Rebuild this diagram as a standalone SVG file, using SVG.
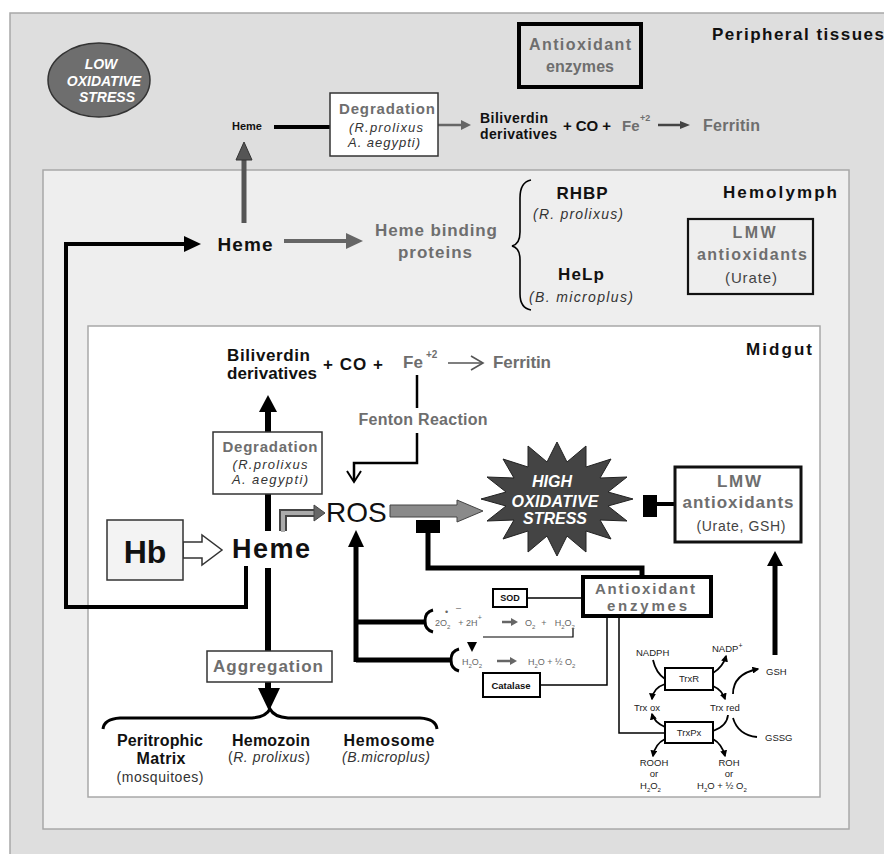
<svg xmlns="http://www.w3.org/2000/svg" width="884" height="854" viewBox="0 0 884 854">
<defs>
<style>
text{font-family:"Liberation Sans",Arial,sans-serif;}
.b{font-weight:bold;fill:#111;}
.g{font-weight:bold;fill:#6e6e6e;}
.i{font-style:italic;fill:#333;}
.w{font-style:italic;font-weight:bold;fill:#fff;}
.s{font-size:9.5px;fill:#222;}
.eq{font-size:9px;fill:#666;}
.c{text-anchor:middle;}
.box{fill:#fff;stroke:#333;stroke-width:1.5;}
.k{stroke:#000;fill:none;}
</style>
<marker id="sm" viewBox="0 0 10 10" refX="8" refY="5" markerWidth="7" markerHeight="7" markerUnits="userSpaceOnUse" orient="auto"><path d="M0,0 L10,5 L0,10 z" fill="#000"/></marker>
</defs>

<!-- compartments -->
<g id="peripheral">
<rect x="10" y="13" width="900" height="900" fill="#dedede" stroke="#a8a8a8" stroke-width="1.5"/>
<text x="712" y="40" class="b" font-size="17" textLength="172">Peripheral tissues</text>
</g>
<g id="hemolymph">
<rect x="43" y="170" width="806" height="659" fill="#eeeeee" stroke="#a8a8a8" stroke-width="1.5"/>
<text x="837" y="198" class="b" font-size="17" text-anchor="end" textLength="114">Hemolymph</text>
</g>
<g id="midgut">
<rect x="88" y="326" width="732" height="471" fill="#fff" stroke="#a8a8a8" stroke-width="1.5"/>
<text x="812" y="355" class="b" font-size="17" text-anchor="end" textLength="66">Midgut</text>
</g>

<!-- connectors -->
<g id="connectors">
<line x1="244" y1="223" x2="244" y2="158" stroke="#555" stroke-width="5"/>
<polygon points="236,160 252,160 244,142" fill="#555" stroke="#333" stroke-width="1"/>
<line x1="274" y1="127" x2="330" y2="127" stroke="#000" stroke-width="4"/>
<line x1="438" y1="125" x2="463" y2="125" stroke="#666" stroke-width="2.5"/>
<polygon points="461,120 471,125 461,130" fill="#666"/>
<line x1="658" y1="125" x2="682" y2="125" stroke="#444" stroke-width="2.5"/>
<polygon points="680,121 690,125 680,129" fill="#444"/>
<path d="M246 566 L246 607 L66 607 L66 244 L188 244" class="k" stroke-width="4"/>
<polygon points="184,236 201,244 184,252" fill="#000"/>
<line x1="284" y1="241" x2="348" y2="241" stroke="#666" stroke-width="4"/>
<polygon points="346,233 363,241 346,249" fill="#666"/>
<path d="M531 180 Q520 182 520 198 L520 232 Q520 244 512 246 Q520 248 520 260 L520 294 Q520 308 531 310" class="k" stroke-width="1.6"/>
<line x1="448" y1="363" x2="482" y2="363" stroke="#555" stroke-width="1.6"/>
<polyline points="471,356 483,363 471,370" fill="none" stroke="#555" stroke-width="1.6"/>
<line x1="417" y1="375" x2="417" y2="408" stroke="#000" stroke-width="2.5"/>
<path d="M417 433 L417 463 L354 463 L354 481" class="k" stroke-width="2.5"/>
<polyline points="347,471 354,482 361,471" fill="none" stroke="#000" stroke-width="2"/>
<line x1="268" y1="432" x2="268" y2="410" stroke="#000" stroke-width="6"/>
<polygon points="259,412 277,412 268,395" fill="#000"/>
<line x1="268" y1="494" x2="268" y2="531" stroke="#000" stroke-width="6"/>
<line x1="268" y1="568" x2="268" y2="651" stroke="#000" stroke-width="6"/>
<line x1="268" y1="682" x2="268" y2="690" stroke="#000" stroke-width="6"/>
<polygon points="258,688 280,688 269,711" fill="#000"/>
<path d="M183 542 L202 542 L202 535 L222 550 L202 565 L202 558 L183 558 Z" fill="#fff" stroke="#333" stroke-width="1.5"/>
<path d="M283 531 L283 513 L316 513" fill="none" stroke="#444" stroke-width="8"/>
<path d="M283 532 L283 513 L316 513" fill="none" stroke="#aaa" stroke-width="4"/>
<polygon points="314,505 325,513 314,521" fill="#666" stroke="#444" stroke-width="1"/>
<path d="M390 505 L457 505 L457 500 L483 511 L457 522 L457 517 L390 517 Z" fill="#8a8a8a" stroke="#444" stroke-width="1"/>
<rect x="643" y="495" width="14" height="22" fill="#000"/>
<line x1="657" y1="504" x2="675" y2="504" stroke="#000" stroke-width="4"/>
<line x1="775" y1="655" x2="775" y2="564" stroke="#000" stroke-width="5"/>
<polygon points="767,566 783,566 775,551" fill="#000"/>
<rect x="416" y="520" width="24" height="13" fill="#000"/>
<path d="M428 533 L428 568 L642 568 L642 578" class="k" stroke-width="5"/>
<line x1="527" y1="598" x2="583" y2="598" stroke="#000" stroke-width="1.5"/>
<line x1="356" y1="662" x2="356" y2="545" stroke="#000" stroke-width="5"/>
<polygon points="348,547 364,547 356,530" fill="#000"/>
<line x1="356" y1="622" x2="425" y2="622" stroke="#000" stroke-width="5"/>
<line x1="356" y1="660" x2="451" y2="660" stroke="#000" stroke-width="5"/>
<path d="M433 610 Q425 612 425 621 Q425 630 433 632" class="k" stroke-width="3"/>
<path d="M459 649 Q451 651 451 660 Q451 669 459 671" class="k" stroke-width="3"/>
<path d="M573 628 L573 637 L483 637" class="k" stroke-width="1.2"/>
<polygon points="467,642 477,642 472,652" fill="#000"/>
<path d="M540 685 L607 685 L607 616" class="k" stroke-width="1.5"/>
<path d="M619 616 L619 733 L665 733" class="k" stroke-width="1.5"/>
<path d="M653 660 Q656 673 665 679" class="k" stroke-width="1.8"/>
<path d="M665 684 Q653 688 652 699" class="k" stroke-width="1.8" marker-end="url(#sm)"/>
<path d="M713 673 Q723 667 726 656" class="k" stroke-width="1.8" marker-end="url(#sm)"/>
<path d="M713 686 Q722 690 725 699" class="k" stroke-width="1.8" marker-end="url(#sm)"/>
<path d="M728 715 Q727 726 713 731" class="k" stroke-width="1.8"/>
<path d="M665 727 Q654 722 652 714" class="k" stroke-width="1.8" marker-end="url(#sm)"/>
<path d="M665 739 Q655 744 653 756" class="k" stroke-width="1.8" marker-end="url(#sm)"/>
<path d="M713 739 Q722 744 725 756" class="k" stroke-width="1.8" marker-end="url(#sm)"/>
<path d="M733 694 Q733 674 758 669" class="k" stroke-width="1.8" marker-end="url(#sm)"/>
<path d="M733 718 Q738 735 757 737" class="k" stroke-width="1.8"/>
<path d="M103 729 Q104 719 120 718 L252 718 Q266 717 270 709 Q274 717 288 718 L420 718 Q436 719 437 729" class="k" stroke-width="3"/>
</g>

<g id="low-stress">
<ellipse cx="99" cy="80" rx="51" ry="37" fill="#6e6e6e" stroke="#333" stroke-width="1.5"/>
<text x="101" y="69" class="w c" font-size="14">LOW</text>
<text x="104" y="86" class="w c" font-size="14">OXIDATIVE</text>
<text x="107" y="102" class="w c" font-size="14">STRESS</text>
</g>
<g id="antiox-enz-top">
<rect x="519" y="24" width="122" height="63" fill="none" stroke="#000" stroke-width="4"/>
<text x="580" y="50" class="g c" font-size="16" textLength="102">Antioxidant</text>
<text x="580" y="72" class="g c" font-size="16" textLength="68">enzymes</text>
</g>
<g id="heme-top"><text x="247" y="130" class="b c" font-size="11">Heme</text></g>
<g id="degradation-top">
<rect x="330" y="93" width="108" height="63" class="box"/>
<text x="387" y="114" class="g c" font-size="15" textLength="96">Degradation</text>
<text x="386" y="132" class="i c" font-size="13" textLength="74">(R.prolixus</text>
<text x="384" y="147" class="i c" font-size="13" textLength="72">A. aegypti)</text>
</g>
<g id="products-top">
<text x="480" y="123" class="b" font-size="14" textLength="68">Biliverdin</text>
<text x="480" y="139" class="b" font-size="14" textLength="77">derivatives</text>
<text x="563" y="131" class="b" font-size="15" textLength="48">+ CO +</text>
<text x="622" y="131" class="g" font-size="15">Fe</text>
<text x="640" y="121" class="g" font-size="9">+2</text>
<text x="703" y="131" class="g" font-size="16" textLength="57">Ferritin</text>
</g>

<g id="heme-hemolymph"><text x="245" y="251" class="b c" font-size="19" textLength="55">Heme</text></g>
<g id="heme-binding">
<text x="436" y="236" class="g c" font-size="17" textLength="122">Heme binding</text>
<text x="435" y="258" class="g c" font-size="17" textLength="74">proteins</text>
</g>
<g id="rhbp">
<text x="582" y="199" class="b c" font-size="17" textLength="51">RHBP</text>
<text x="578" y="219" class="i c" font-size="14" textLength="90">(R. prolixus)</text>
</g>
<g id="help">
<text x="581" y="280" class="b c" font-size="17" textLength="46">HeLp</text>
<text x="581" y="302" class="i c" font-size="14" textLength="104">(B. microplus)</text>
</g>
<g id="lmw-hemolymph">
<rect x="688" y="219" width="125" height="75" fill="none" stroke="#111" stroke-width="2.2"/>
<text x="754" y="238" class="g c" font-size="16" textLength="43">LMW</text>
<text x="752" y="260" class="g c" font-size="16" textLength="110">antioxidants</text>
<text x="751" y="283" class="c" font-size="15" fill="#444" textLength="52">(Urate)</text>
</g>

<g id="products-midgut">
<text x="227" y="361" class="b" font-size="17" textLength="83">Biliverdin</text>
<text x="227" y="379" class="b" font-size="17" textLength="90">derivatives</text>
<text x="323" y="370" class="b" font-size="17" textLength="60">+ CO +</text>
<text x="403" y="368" class="g" font-size="17">Fe</text>
<text x="426" y="358" class="g" font-size="10">+2</text>
<text x="493" y="368" class="g" font-size="17" textLength="58">Ferritin</text>
</g>
<g id="fenton"><text x="423" y="425" class="g c" font-size="16" textLength="129">Fenton Reaction</text></g>
<g id="degradation-midgut">
<rect x="213" y="432" width="109" height="62" class="box"/>
<text x="270" y="452" class="g c" font-size="15" textLength="95">Degradation</text>
<text x="270" y="469" class="i c" font-size="13" textLength="75">(R.prolixus</text>
<text x="270" y="484" class="i c" font-size="13" textLength="76">A. aegypti)</text>
</g>
<g id="hb">
<rect x="107" y="520" width="76" height="60" fill="#f3f3f3" stroke="#333" stroke-width="1.5"/>
<text x="145" y="563" class="b c" font-size="32">Hb</text>
</g>
<g id="heme-midgut"><text x="271" y="558" class="b c" font-size="27" textLength="78">Heme</text></g>
<g id="ros"><text x="326" y="522" font-size="28" fill="#111">ROS</text></g>
<g id="high-stress">
<polygon points="633,499 608,506 627,521 600,520 611,539 586,531 586,552 567,536 557,556 547,536 528,552 528,531 503,539 514,520 487,521 506,506 481,499 506,492 487,477 514,478 503,459 528,467 528,446 547,462 557,442 567,462 586,446 586,467 611,459 600,478 627,477 608,492" fill="#444" stroke="#222" stroke-width="1"/>
<text x="552" y="487" class="w c" font-size="16" textLength="40">HIGH</text>
<text x="555" y="507" class="w c" font-size="16" textLength="87">OXIDATIVE</text>
<text x="555" y="524" class="w c" font-size="16" textLength="64">STRESS</text>
</g>
<g id="lmw-midgut">
<rect x="675" y="467" width="126" height="75" fill="#fff" stroke="#111" stroke-width="3"/>
<text x="739" y="487" class="g c" font-size="17" textLength="44">LMW</text>
<text x="738" y="508" class="g c" font-size="17" textLength="111">antioxidants</text>
<text x="741" y="531" class="c" font-size="14" fill="#444" textLength="89">(Urate, GSH)</text>
</g>
<g id="antiox-enz-midgut">
<rect x="583" y="577" width="128" height="39" fill="#fff" stroke="#000" stroke-width="4"/>
<text x="645" y="594" class="g c" font-size="15" textLength="100">Antioxidant</text>
<text x="647" y="611" class="g c" font-size="15" textLength="80">enzymes</text>
</g>
<g id="sod">
<rect x="493" y="589" width="34" height="18" fill="#fff" stroke="#000" stroke-width="2"/>
<text x="510" y="601" class="b c" font-size="9">SOD</text>
</g>
<g id="catalase">
<rect x="483" y="673" width="57" height="24" fill="#fff" stroke="#000" stroke-width="2"/>
<text x="511" y="689" class="b c" font-size="9.5">Catalase</text>
</g>
<g id="eq-sod">
<text x="435" y="626" class="eq">2O<tspan dy="3" font-size="6">2</tspan><tspan dy="-3" dx="8">+ 2H</tspan><tspan dy="-6" font-size="7">+</tspan></text>
<text x="445" y="615" class="eq" font-size="7">•</text>
<text x="456" y="611" class="eq" font-size="12">–</text>
<line x1="502" y1="622" x2="512" y2="622" stroke="#666" stroke-width="2.5"/>
<polygon points="511,618 518,622 511,626" fill="#666"/>
<text x="525" y="626" class="eq">O<tspan dy="3" font-size="6">2</tspan><tspan dy="-3" dx="6">+</tspan><tspan dx="8">H</tspan><tspan dy="3" font-size="6">2</tspan><tspan dy="-3">O</tspan><tspan dy="3" font-size="6">2</tspan></text>
</g>
<g id="eq-cat">
<text x="462" y="665" class="eq">H<tspan dy="3" font-size="6">2</tspan><tspan dy="-3">O</tspan><tspan dy="3" font-size="6">2</tspan></text>
<line x1="497" y1="661" x2="511" y2="661" stroke="#666" stroke-width="2.5"/>
<polygon points="510,657 517,661 510,665" fill="#666"/>
<text x="528" y="665" class="eq">H<tspan dy="3" font-size="6">2</tspan><tspan dy="-3">O + ½ O</tspan><tspan dy="3" font-size="6">2</tspan></text>
</g>
<g id="trxr">
<rect x="665" y="668" width="48" height="22" fill="#fff" stroke="#000" stroke-width="2"/>
<text x="689" y="682" class="s c">TrxR</text>
</g>
<g id="trxpx">
<rect x="665" y="722" width="48" height="21" fill="#fff" stroke="#000" stroke-width="2"/>
<text x="689" y="736" class="s c">TrxPx</text>
</g>
<g id="trx-labels">
<text x="636" y="656" class="s">NADPH</text>
<text x="712" y="652" class="s">NADP<tspan dy="-4" font-size="7">+</tspan></text>
<text x="634" y="711" class="s">Trx ox</text>
<text x="710" y="711" class="s">Trx red</text>
<text x="766" y="675" class="s">GSH</text>
<text x="765" y="741" class="s">GSSG</text>
<text x="654" y="766" class="s c">ROOH</text>
<text x="654" y="777" class="s c" font-size="5">or</text>
<text x="640" y="789" class="s">H<tspan dy="3" font-size="6">2</tspan><tspan dy="-3">O</tspan><tspan dy="3" font-size="6">2</tspan></text>
<text x="729" y="766" class="s c">ROH</text>
<text x="729" y="777" class="s c" font-size="5">or</text>
<text x="697" y="789" class="s">H<tspan dy="3" font-size="6">2</tspan><tspan dy="-3">O + ½ O</tspan><tspan dy="3" font-size="6">2</tspan></text>
</g>
<g id="aggregation">
<rect x="207" y="651" width="125" height="31" class="box"/>
<text x="268" y="672" class="g c" font-size="17" textLength="110">Aggregation</text>
</g>
<g id="peritrophic">
<text x="160" y="746" class="b c" font-size="16" textLength="86">Peritrophic</text>
<text x="161" y="764" class="b c" font-size="16" textLength="49">Matrix</text>
<text x="160" y="782" class="c" font-size="14" fill="#333" textLength="87">(mosquitoes)</text>
</g>
<g id="hemozoin">
<text x="271" y="746" class="b c" font-size="16" textLength="78">Hemozoin</text>
<text x="269" y="762" class="c" font-size="14" fill="#333" textLength="82">(<tspan font-style="italic">R. prolixus</tspan>)</text>
</g>
<g id="hemosome">
<text x="389" y="746" class="b c" font-size="16" textLength="91">Hemosome</text>
<text x="386" y="762" class="i c" font-size="14" textLength="88">(B.microplus)</text>
</g>
</svg>
